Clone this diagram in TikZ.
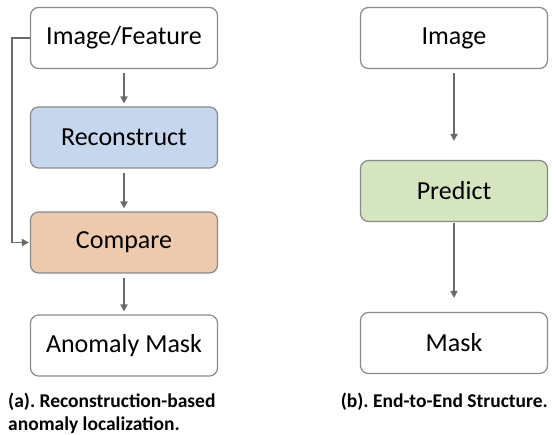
\documentclass[tikz,border=0pt]{standalone}
\usepackage{fontspec}
\setmainfont{Carlito}
\usetikzlibrary{arrows.meta}
\definecolor{boxborder}{HTML}{8A8A8A}
\definecolor{arrowgray}{HTML}{6A6A6A}
\definecolor{reconfill}{HTML}{C6D6EC}
\definecolor{comparefill}{HTML}{EDCAAE}
\definecolor{predictfill}{HTML}{D4E5C0}
\tikzset{
  stagebox/.style={draw=boxborder, line width=1.2pt, rounded corners=8pt,
    minimum width=187pt, minimum height=61pt, inner sep=0pt,
    font=\fontsize{26}{30}\selectfont, text=black},
  flowarrow/.style={draw=arrowgray, line width=1.8pt,
    -{Triangle[width=7pt,length=7pt]}},
  captext/.style={font=\fontsize{19.5}{23}\selectfont\bfseries, inner sep=0pt, align=left}
}
\frenchspacing
\begin{document}
\begin{tikzpicture}[x=1pt,y=-1pt]
\useasboundingbox (0,0) rectangle (556,435);
% left column
\node[stagebox, fill=white] (imf) at (124,38) {Image/Feature};
\node[stagebox, fill=reconfill] (rec) at (124,137.5) {Reconstruct};
\node[stagebox, fill=comparefill] (cmp) at (124,242.5) {Compare};
\node[stagebox, fill=white] (amask) at (124,345.5) {Anomaly Mask};
\draw[flowarrow, shorten <=4pt, shorten >=3pt] (imf) -- (rec);
\draw[flowarrow, shorten <=4pt, shorten >=3pt] (rec) -- (cmp);
\draw[flowarrow, shorten <=4pt, shorten >=3pt] (cmp) -- (amask);
\coordinate (bendtop) at (12,38);
\coordinate (bendbot) at (12,242.5);
\draw[flowarrow, shorten >=1pt] (imf.west) -- (bendtop) -- (bendbot) -- (cmp.west);
\node[captext, anchor=base west] (capa) at (8,430) {(a). Reconstruction-based\\anomaly localization.};
% right column
\node[stagebox, fill=white] (img) at (454,38) {Image};
\node[stagebox, fill=predictfill] (pred) at (454,191) {Predict};
\node[stagebox, fill=white] (mask) at (454,343) {Mask};
\draw[flowarrow, shorten <=4pt, shorten >=19pt] (img) -- (pred);
\draw[flowarrow, shorten <=1pt, shorten >=14pt] (pred) -- (mask);
\node[captext, anchor=base east] (capb) at (548,407) {(b). End-to-End Structure.};
\end{tikzpicture}
\end{document}
